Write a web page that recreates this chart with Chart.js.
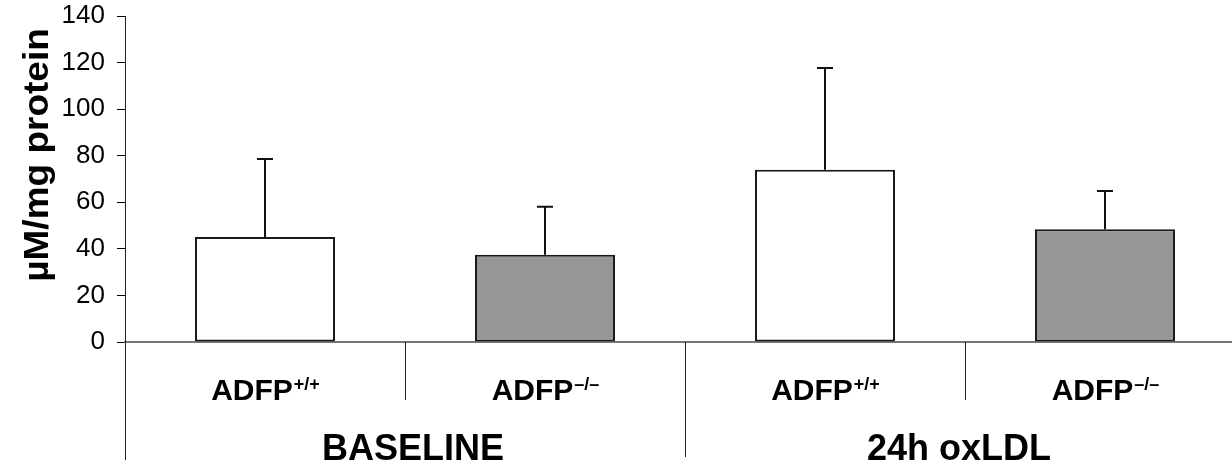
<!DOCTYPE html>
<html>
<head>
<meta charset="utf-8">
<script src="https://cdn.jsdelivr.net/npm/chart.js@4.4.0/dist/chart.umd.min.js"></script>
<style>
  html, body { margin: 0; padding: 0; overflow: hidden; background: #fff; }
  #wrap { width: 1246px; height: 468px; position: relative; }
</style>
</head>
<body>
<div id="wrap"><canvas id="chart"></canvas></div>
<script>
const categories = ['ADFP', 'ADFP', 'ADFP', 'ADFP']
const genotypes = ['+/+', '\u2013/\u2013', '+/+', '\u2013/\u2013']
const groups = ['BASELINE', '24h oxLDL']
const means = [45.1, 37.5, 74.0, 48.4]
const errors = [33.5, 20.6, 43.7, 16.5]
const barColors = ['#ffffff', '#969696', '#ffffff', '#969696']
const yTitle = '\u00b5M/mg protein'

const FONT = "'Liberation Sans', Arial, sans-serif"

// error bars, category dividers, two-level labels and the axis title
const extras = {
    id: 'extras',
    afterDatasetsDraw(chart) {
        let ctx = chart.ctx
        let y = chart.scales.y
        let meta = chart.getDatasetMeta(0)
        ctx.save()
        ctx.strokeStyle = '#111'
        ctx.lineWidth = 2
        meta.data.forEach((bar, i) => {
            let top = y.getPixelForValue(means[i] + errors[i])
            ctx.beginPath()
            ctx.moveTo(bar.x, bar.y)
            ctx.lineTo(bar.x, top)
            ctx.moveTo(bar.x - 8, top)
            ctx.lineTo(bar.x + 8, top)
            ctx.stroke()
        })
        ctx.restore()
    },
    afterDraw(chart) {
        let ctx = chart.ctx
        let area = chart.chartArea
        let x = chart.scales.x
        let perGroup = categories.length / groups.length
        ctx.save()

        // y axis runs on below the zero line
        ctx.strokeStyle = '#222'
        ctx.lineWidth = 1
        ctx.beginPath()
        ctx.moveTo(area.left + 0.5, area.bottom)
        ctx.lineTo(area.left + 0.5, 460)
        ctx.stroke()

        for (let i = 0; i < categories.length - 1; i++) {
            let bx = Math.round((x.getPixelForValue(i) + x.getPixelForValue(i + 1)) / 2) + 0.5
            let end = (i + 1) % perGroup === 0 ? 457 : 400
            ctx.beginPath()
            ctx.moveTo(bx, area.bottom)
            ctx.lineTo(bx, end)
            ctx.stroke()
        }

        ctx.fillStyle = '#000'
        ctx.textBaseline = 'alphabetic'
        ctx.textAlign = 'left'
        categories.forEach((name, i) => {
            let cx = x.getPixelForValue(i)
            ctx.font = 'bold 30px ' + FONT
            let w1 = ctx.measureText(name).width
            ctx.font = 'bold 18px ' + FONT
            let w2 = ctx.measureText(genotypes[i]).width
            let left = cx - (w1 + w2) / 2
            ctx.font = 'bold 30px ' + FONT
            ctx.fillText(name, left, 400)
            ctx.font = 'bold 18px ' + FONT
            ctx.fillText(genotypes[i], left + w1 + 1, 390)
        })

        ctx.textAlign = 'center'
        ctx.font = 'bold 36px ' + FONT
        groups.forEach((g, gi) => {
            let a = x.getPixelForValue(gi * perGroup)
            let b = x.getPixelForValue(gi * perGroup + perGroup - 1)
            ctx.fillText(g, (a + b) / 2 + (gi === 0 ? 8 : -6), 460)
        })

        ctx.translate(38, 155)
        ctx.rotate(-Math.PI / 2)
        ctx.scale(1, 0.95)
        ctx.textBaseline = 'middle'
        ctx.font = 'bold 37px ' + FONT
        ctx.fillText(yTitle, 0, 0)
        ctx.restore()
    }
}

let chart = new Chart(document.getElementById('chart'), {
    type: 'bar',
    data: {
        labels: categories.map((c, i) => c + genotypes[i]),
        datasets: [{
            data: means,
            backgroundColor: barColors,
            borderColor: '#1a1a1a',
            borderWidth: 2,
            borderSkipped: false,
            barPercentage: 0.5,
            categoryPercentage: 1.0
        }]
    },
    options: {
        responsive: true,
        maintainAspectRatio: false,
        animation: false,
        layout: { padding: { top: 16, right: 1, bottom: 0, left: 0 } },
        plugins: {
            legend: { display: false },
            tooltip: { enabled: false },
            title: { display: false }
        },
        scales: {
            x: {
                grid: { display: false },
                border: { display: true, color: '#777', width: 2 },
                ticks: { display: false },
                afterFit(scale) { scale.height = 126 }
            },
            y: {
                min: 0,
                max: 140,
                grid: { drawOnChartArea: false, drawTicks: true, tickLength: 8, color: '#000', lineWidth: 1 },
                border: { display: true, color: '#222', width: 1 },
                ticks: {
                    stepSize: 20,
                    padding: 12,
                    color: '#000',
                    font: { family: FONT, size: 26 }
                },
                afterFit(scale) {
                    scale.width = 125
                    scale.paddingTop = 0
                    scale.paddingBottom = 0
                }
            }
        }
    },
    plugins: [extras]
});
</script>
</body>
</html>
